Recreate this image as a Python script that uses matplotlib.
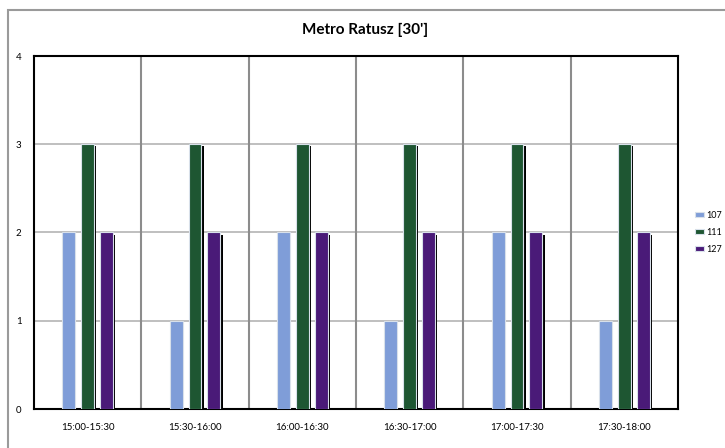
import numpy as np
import matplotlib
matplotlib.use("Agg")
from matplotlib import pyplot as plt
from matplotlib.patches import Rectangle

# Dane z wykresu
przedzialy = ["15:00-15:30", "15:30-16:00", "16:00-16:30",
              "16:30-17:00", "17:00-17:30", "17:30-18:00"]
linie = ["107", "111", "127"]
kursy_107 = [2, 1, 2, 1, 2, 1]
kursy_111 = [3, 3, 3, 3, 3, 3]
kursy_127 = [2, 2, 2, 2, 2, 2]
kolory = ["#7f9dd8", "#1e5632", "#4a1a78"]
y_ticks = [0, 1, 2, 3, 4]

plt.rcParams['font.family'] = ['Lato', 'DejaVu Sans']

fig = plt.figure(figsize=(7.25, 4.48), dpi=100)
fig.patch.set_facecolor("white")
# ramka wykresu (wychodzi poza obrazek z prawej i z dolu)
fig.add_artist(Rectangle((8 / 725, -0.05), 1.1, (448 - 10) / 448 + 0.05,
                         transform=fig.transFigure, fill=False,
                         edgecolor="#9a9a9a", linewidth=1.5))

ax = fig.add_axes([34 / 725, 39 / 448, 644 / 725, 353 / 448])

x = np.arange(len(przedzialy))
szer = 0.12
odstep = 0.176
serie = [kursy_107, kursy_111, kursy_127]

for i, (wart, kolor, nazwa) in enumerate(zip(serie, kolory, linie)):
    pos = x + (i - 1) * odstep
    if i > 0:
        # cien pod slupkami
        ax.bar(pos + 0.022, np.array(wart) - 0.025, szer, color="black",
               zorder=2, linewidth=0)
    ax.bar(pos, wart, szer, color=kolor, edgecolor="#d8e0ea", linewidth=0.8,
           zorder=3, label=nazwa)

ax.set_xlim(-0.5, len(przedzialy) - 0.5)
ax.set_ylim(0, 4)
ax.set_yticks(y_ticks)
ax.set_yticklabels([str(t) for t in y_ticks], fontsize=7)
ax.set_xticks(x)
ax.set_xticklabels(przedzialy, fontsize=7)
ax.tick_params(axis="x", length=0, pad=10)
ax.tick_params(axis="y", length=0, pad=9)

for yy in y_ticks[1:-1]:
    ax.axhline(yy, color="#b4b4b4", linewidth=1.2, zorder=1)
for xx in np.arange(0.5, len(przedzialy) - 0.5):
    ax.axvline(xx, color="#8c8c8c", linewidth=1.5, zorder=1)

for s in ax.spines.values():
    s.set_color("black")
    s.set_linewidth(1.5)

fig.text(365 / 725, 1 - 30 / 448, "Metro Ratusz [30']", ha="center",
         va="center", fontsize=11, fontweight="bold")

leg = ax.legend(loc="center left", bbox_to_anchor=(1.02, 0.5), frameon=False,
                fontsize=6.5, handlelength=1.0, handleheight=0.5,
                handletextpad=0.2, labelspacing=0.9, borderpad=0)

fig.savefig("out.png", dpi=100)
